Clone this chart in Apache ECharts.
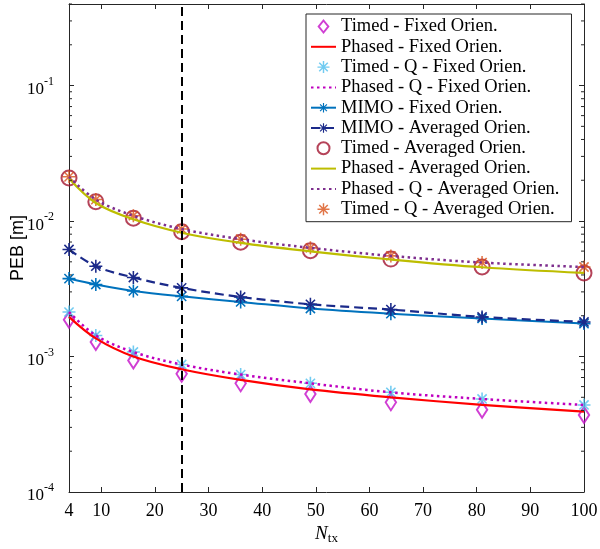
<!DOCTYPE html>
<html>
<head>
<meta charset="utf-8">
<script src="https://cdn.jsdelivr.net/npm/echarts@6/dist/echarts.min.js"></script>
<style>
  html, body { margin: 0; padding: 0; background: #fff; }
  #chart { width: 600px; height: 549px; }
</style>
</head>
<body>
<div id="chart"></div>
<script>
// 横轴: 发射天线数
const nTx = [4, 9, 16, 25, 36, 49, 64, 81, 100];
const xTicks = [4, 10, 20, 30, 40, 50, 60, 70, 80, 90, 100];

// PEB [m]，每条曲线一组
const timedFixed     = [0.00187, 0.00128, 0.000934, 0.000745, 0.000634, 0.000529, 0.000459, 0.000405, 0.000370];
const phasedFixed    = [0.00196, 0.00136, 0.00100, 0.000805, 0.000672, 0.000572, 0.000500, 0.000440, 0.000392];
const timedQFixed    = [0.00213, 0.00143, 0.00108, 0.000873, 0.000736, 0.000634, 0.000544, 0.000486, 0.000439];
const phasedQFixed   = [0.00213, 0.00143, 0.00108, 0.000873, 0.000736, 0.000634, 0.000544, 0.000486, 0.000439];
const mimoFixed      = [0.00376, 0.00340, 0.00305, 0.00278, 0.00253, 0.00226, 0.00207, 0.00191, 0.00175];
const mimoAvg        = [0.00617, 0.00464, 0.00383, 0.00321, 0.00275, 0.00243, 0.00222, 0.00196, 0.00180];
const timedAvg       = [0.0208, 0.0139, 0.0105, 0.00834, 0.00698, 0.00604, 0.00524, 0.00458, 0.00414];
const phasedAvg      = [0.0206, 0.0136, 0.0103, 0.00820, 0.00690, 0.00598, 0.00520, 0.00456, 0.00414];
const phasedQAvg     = [0.0212, 0.0144, 0.01095, 0.00873, 0.00735, 0.00634, 0.00553, 0.00494, 0.00458];
const timedQAvg      = [0.0212, 0.0144, 0.01095, 0.00873, 0.00735, 0.00634, 0.00553, 0.00494, 0.00458];

// 对数轴次刻度
const minorTicks = [];
[1e-4, 1e-3, 1e-2, 1e-1].forEach(d => {
  for (let k = 2; k <= 9; k++) { if (d * k <= 0.4) minorTicks.push(d * k); }
});

const pair = arr => nTx.map((n, i) => [n, arr[i]]);

// 星号 (MATLAB '*') 和空心菱形
const star = 'path://M-1.2,-10L1.2,-10L1.2,10L-1.2,10Z M-10,-1.2L10,-1.2L10,1.2L-10,1.2Z ' +
  'M6.22,7.92L-7.92,-6.22L-6.22,-7.92L7.92,6.22Z M7.92,-6.22L-6.22,7.92L-7.92,6.22L6.22,-7.92Z';
const diamond = 'path://M0,-10L8,0L0,10L-8,0Z';

const serif = 'Liberation Serif';
const axisCol = '#262626';
const noSym = { itemStyle: { opacity: 0 } };

let myChart = echarts.init(document.getElementById('chart'));
let option = {
  animation: false,
  grid: { left: 69, right: 16, top: 4, bottom: 57, outerBoundsMode: 'none', containLabel: false },
  legend: {
    orient: 'vertical',
    left: 306,
    top: 14,
    padding: [3, 12, 3, 4],
    itemWidth: 25,
    itemHeight: 12,
    itemGap: 1.3,
    backgroundColor: '#fff',
    borderColor: axisCol,
    borderWidth: 1,
    textStyle: { fontFamily: serif, fontSize: 18.5, color: '#000' },
    data: [
      { name: 'Timed - Fixed Orien.' },
      Object.assign({ name: 'Phased - Fixed Orien.' }, noSym),
      { name: 'Timed - Q - Fixed Orien.' },
      Object.assign({ name: 'Phased - Q - Fixed Orien.' }, noSym),
      { name: 'MIMO - Fixed Orien.' },
      { name: 'MIMO - Averaged Orien.' },
      { name: 'Timed - Averaged Orien.' },
      Object.assign({ name: 'Phased - Averaged Orien.' }, noSym),
      Object.assign({ name: 'Phased - Q - Averaged Orien.' }, noSym),
      { name: 'Timed - Q - Averaged Orien.' }
    ]
  },
  xAxis: [
    {
      type: 'value', min: 4, max: 100,
      name: '{i|N}{s|tx}', nameLocation: 'middle', nameGap: 30, nameMoveOverlap: false,
      nameTextStyle: {
        rich: {
          i: { fontFamily: serif, fontStyle: 'italic', fontSize: 19, color: '#000' },
          s: { fontFamily: serif, fontSize: 13, color: '#000', padding: [10, 0, 0, 0] }
        }
      },
      axisLine: { lineStyle: { color: axisCol } },
      axisTick: { inside: true, length: 5, customValues: xTicks, lineStyle: { color: axisCol } },
      axisLabel: { customValues: xTicks, fontFamily: serif, fontSize: 18, color: '#000', margin: 10 },
      splitLine: { show: false }
    },
    {
      type: 'value', min: 4, max: 100, position: 'top',
      axisLine: { lineStyle: { color: axisCol } },
      axisTick: { inside: true, length: 5, customValues: xTicks, lineStyle: { color: axisCol } },
      axisLabel: { show: false },
      splitLine: { show: false }
    }
  ],
  yAxis: [
    {
      type: 'log', min: 1e-4, max: 0.4, logBase: 10,
      name: 'PEB [m]', nameLocation: 'middle', nameGap: 42, nameMoveOverlap: false,
      nameTextStyle: { fontFamily: 'Liberation Sans', fontSize: 18, color: '#000' },
      axisLine: { lineStyle: { color: axisCol } },
      axisTick: { inside: true, length: 5, lineStyle: { color: axisCol } },
      axisLabel: {
        margin: 15, color: '#000',
        formatter: v => {
          const e = Math.log10(v);
          if (Math.abs(e - Math.round(e)) > 1e-6) return '';
          return '{b|10}{s|' + Math.round(e) + '}';
        },
        rich: {
          b: { fontFamily: serif, fontSize: 17, color: '#000', padding: [8, 0, 0, 0] },
          s: { fontFamily: serif, fontSize: 12, color: '#000', padding: [0, 0, 8, 0] }
        }
      },
      splitLine: { show: false }
    },
    {
      type: 'log', min: 1e-4, max: 0.4, logBase: 10, position: 'right',
      axisLine: { lineStyle: { color: axisCol } },
      axisTick: { inside: true, length: 5, lineStyle: { color: axisCol } },
      axisLabel: { show: false },
      splitLine: { show: false }
    }
  ],
  series: [
    {
      // 次刻度 (左右两侧)
      type: 'custom', coordinateSystem: 'cartesian2d', xAxisIndex: 0, yAxisIndex: 0,
      silent: true, clip: false, z: 5,
      encode: { x: 0, y: 1 },
      renderItem: (params, api) => {
        const p = api.coord([4, api.value(1)]);
        const q = api.coord([100, api.value(1)]);
        const st = { stroke: axisCol, lineWidth: 1 };
        return {
          type: 'group',
          children: [
            { type: 'line', shape: { x1: p[0], y1: p[1], x2: p[0] + 3, y2: p[1] }, style: st },
            { type: 'line', shape: { x1: q[0] - 3, y1: q[1], x2: q[0], y2: q[1] }, style: st }
          ]
        };
      },
      data: minorTicks.map(v => [4, v])
    },
    {
      name: 'Timed - Fixed Orien.', type: 'scatter', symbol: diamond, symbolSize: [13, 16],
      symbolKeepAspect: true,
      itemStyle: { color: 'rgba(0,0,0,0)', borderColor: '#c40fc8', borderWidth: 2 },
      data: pair(timedFixed)
    },
    {
      name: 'Phased - Fixed Orien.', type: 'line', symbol: 'none', smooth: 0.35,
      lineStyle: { color: '#ff0000', width: 2.2 }, itemStyle: { color: '#ff0000' },
      data: pair(phasedFixed),
      markLine: {
        silent: true, symbol: ['none', 'none'], label: { show: false },
        lineStyle: { color: '#000', type: [9, 5], width: 2 },
        data: [{ xAxis: 25 }]
      }
    },
    {
      name: 'Timed - Q - Fixed Orien.', type: 'scatter', symbol: star, symbolSize: 13,
      itemStyle: { color: '#4dbeee' },
      data: pair(timedQFixed)
    },
    {
      name: 'Phased - Q - Fixed Orien.', type: 'line', symbol: 'none', smooth: 0.35,
      lineStyle: { color: '#bf00bf', width: 2.5, type: [2.5, 3.5] }, itemStyle: { color: '#bf00bf' },
      data: pair(phasedQFixed)
    },
    {
      name: 'MIMO - Fixed Orien.', type: 'line', symbol: star, symbolSize: 13, smooth: 0.35,
      lineStyle: { color: '#0072bd', width: 2 }, itemStyle: { color: '#0072bd' },
      data: pair(mimoFixed)
    },
    {
      name: 'MIMO - Averaged Orien.', type: 'line', symbol: star, symbolSize: 13, smooth: 0.35,
      lineStyle: { color: '#1b2a8a', width: 2.2, type: [9, 5] }, itemStyle: { color: '#1b2a8a' },
      data: pair(mimoAvg)
    },
    {
      name: 'Timed - Averaged Orien.', type: 'scatter', symbol: 'circle', symbolSize: 15,
      itemStyle: { color: 'rgba(0,0,0,0)', borderColor: '#a2142f', borderWidth: 2 },
      data: pair(timedAvg)
    },
    {
      name: 'Phased - Averaged Orien.', type: 'line', symbol: 'none', smooth: 0.35,
      lineStyle: { color: '#bdbd00', width: 2.2 }, itemStyle: { color: '#bdbd00' },
      data: pair(phasedAvg)
    },
    {
      name: 'Phased - Q - Averaged Orien.', type: 'line', symbol: 'none', smooth: 0.35,
      lineStyle: { color: '#7e2f8e', width: 2.5, type: [2.5, 3.5] }, itemStyle: { color: '#7e2f8e' },
      data: pair(phasedQAvg)
    },
    {
      name: 'Timed - Q - Averaged Orien.', type: 'scatter', symbol: star, symbolSize: 13,
      itemStyle: { color: '#d95319' },
      data: pair(timedQAvg)
    }
  ]
};
myChart.setOption(option);
window.addEventListener('resize', function () { myChart.resize(); });
</script>
</body>
</html>
